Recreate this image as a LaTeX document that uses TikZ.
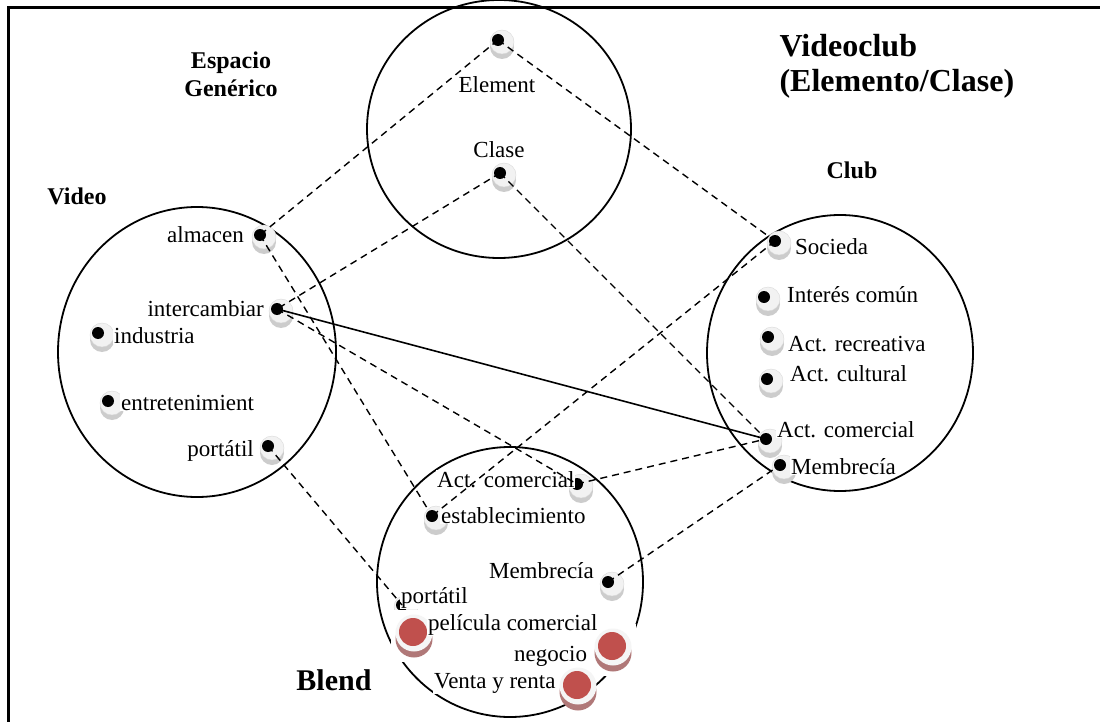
\documentclass[tikz,border=0pt]{standalone}
\usepackage{fontspec}
\setmainfont{Liberation Serif}
\definecolor{beadred}{RGB}{192,80,77}
\definecolor{beadrim}{RGB}{176,120,120}
\begin{document}
\begin{tikzpicture}[
  x=1pt, y=-1pt,
  every node/.style={font=\fontsize{23}{27}\selectfont},
  lbl/.style={fill=white, inner sep=1pt},
  title/.style={font=\bfseries\fontsize{32}{36}\selectfont},
  head/.style={font=\bfseries\fontsize{24}{28}\selectfont},
  blendhead/.style={font=\bfseries\fontsize{30}{34}\selectfont},
  ring/.style={draw=black, line width=1.8pt},
  frame/.style={draw=black, line width=3pt},
  link/.style={line width=1.4pt, dash pattern=on 7pt off 5pt},
  tie/.style={line width=1.6pt},
  bead/.pic={
    \fill[gray!40] (4,7) circle (12pt);
    \fill[gray!10] (4,2) circle (12pt);
    \draw[gray!30, line width=0.4pt] (4,2) circle (12pt);
    \fill[black] (0,0) circle (6pt);
    \coordinate (-c) at (0,0);
  },
  redbead/.pic={
    \fill[beadrim] (1,7) circle (18.5pt);
    \fill[gray!8] (1,1) circle (18.5pt);
    \fill[beadred] (0,0) circle (14pt);
    \coordinate (-c) at (0,0);
  },
  backedbead/.pic={
    \fill[white] (-22,-22) rectangle (24,30);
    \fill[beadrim] (1,7) circle (18.5pt);
    \fill[gray!8] (1,1) circle (18.5pt);
    \fill[beadred] (0,0) circle (14pt);
    \coordinate (-c) at (0,0);
  }
]
\useasboundingbox (0,0) rectangle (1100,722);

% outer frame: only its top and left sides fall inside the page
\draw[frame] (8.5,722) -- (8.5,7.5) -- (1100,7.5);

% the four mental spaces
\draw[ring] (499,129) ellipse [x radius=132pt, y radius=129pt];
\draw[ring] (197,352) ellipse [x radius=139pt, y radius=145pt];
\draw[ring] (840,353) ellipse [x radius=133pt, y radius=138pt];
\draw[ring] (510,582) ellipse [x radius=133pt, y radius=135pt];

% elements of the generic space
\pic (element) at (498,40) {bead};
\pic (clase) at (500,173) {bead};

% elements of the input space Video
\pic (almacen) at (260,235) {bead};
\pic (intercambiar) at (277,309) {bead};
\pic (industria) at (98,333) {bead};
\pic (entreten) at (108,401) {bead};
\pic (portatilv) at (268,446) {bead};

% elements of the input space Club
\pic (socieda) at (775,241) {bead};
\pic (interes) at (764,297) {bead};
\pic (recreativa) at (768,337) {bead};
\pic (cultural) at (767,379) {bead};
\pic (clubcom) at (766,439) {bead};
\pic (clubmem) at (780,465) {bead};

% elements of the blend
\pic (blendcom) at (577,484) {bead};
\pic (establ) at (432,516) {bead};
\pic (blendmem) at (608,582) {bead};
\pic (portatilb) at (402,605) {bead};
\pic (pelicula) at (413,632) {backedbead};
\pic (negocio) at (612,646) {backedbead};
\pic (venta) at (577,685) {redbead};

% headings
\node[title, anchor=base west] (t1) at (776,57) {Videoclub};
\node[title, anchor=base west] (t2) at (776,92) {(Elemento/Clase)};
\node[head, anchor=base] (g1) at (231,69) {Espacio};
\node[head, anchor=base] (g2) at (231,97) {Genérico};
\node[head, anchor=base] (hvideo) at (77,205) {Video};
\node[head, anchor=base] (hclub) at (852,179) {Club};
\node[blendhead, anchor=base] (hblend) at (334,690) {Blend};

% labels
\node[lbl, anchor=base] (lelement) at (497,93) {Element};
\node[lbl, anchor=base] (lclase) at (499,158) {Clase};

\node[lbl, anchor=base east] (lalmacen) at (245,242) {almacen};
\node[lbl, anchor=base east] (linter) at (265,316) {intercambiar};
\node[lbl, anchor=base west] (lindus) at (113,343) {industria};
\node[lbl, anchor=base west] (lentre) at (120,410) {entretenimient};
\node[lbl, anchor=base east] (lportv) at (255,456) {portátil};

\node[lbl, anchor=base west] (lsoc) at (794,254) {Socieda};
\node[lbl, anchor=base west] (linteres) at (786,302) {Interés común};
\node[lbl, anchor=base west] (lrecre) at (787,351) {Act. recreativa};
\node[lbl, anchor=base west] (lcult) at (789,381) {Act. cultural};
\node[lbl, anchor=base west] (lclubcom) at (776,437) {Act. comercial};
\node[lbl, anchor=base west] (lclubmem) at (790,474) {Membrecía};

\node[lbl, anchor=base west] (lblendcom) at (436,487) {Act. comercial};
\node[lbl, anchor=base west] (lestabl) at (440,523) {establecimiento};
\node[lbl, anchor=base east] (lblendmem) at (595,578) {Membrecía};
\node[lbl, anchor=base west] (lportb) at (400,603) {portátil};
\node[lbl, anchor=base west] (lpeli) at (427,630) {película comercial};
\node[lbl, anchor=base west] (lneg) at (513,661) {negocio};
\node[lbl, anchor=base west] (lventa) at (433,688) {Venta y renta};

% cross-space mappings
\draw[link] (element-c) -- (almacen-c);
\draw[link] (element-c) -- (socieda-c);
\draw[link] (clase-c) -- (intercambiar-c);
\draw[link] (clase-c) -- (clubcom-c);
\draw[link] (almacen-c) -- (establ-c);
\draw[link] (intercambiar-c) -- (blendcom-c);
\draw[link] (socieda-c) -- (establ-c);
\draw[link] (blendcom-c) -- (clubcom-c);
\draw[link] (blendmem-c) -- (clubmem-c);
\draw[link] (portatilv-c) -- (portatilb-c);
\draw[tie] (intercambiar-c) -- (clubcom-c);
\end{tikzpicture}
\end{document}
